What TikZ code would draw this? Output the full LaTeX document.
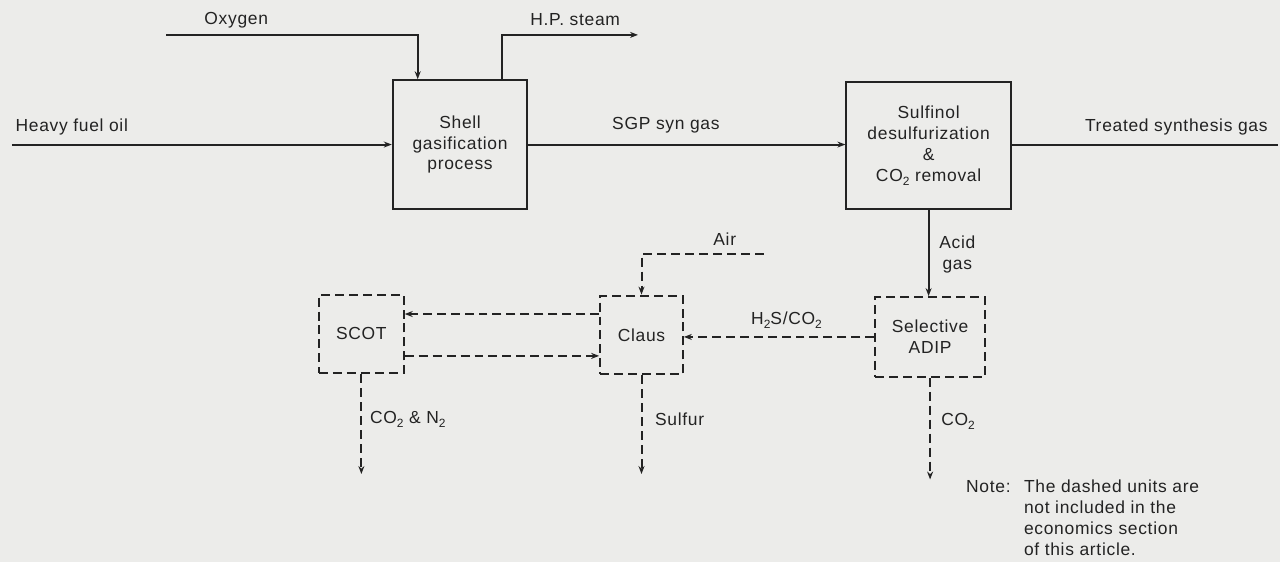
\documentclass[tikz,border=0pt]{standalone}
\usepackage{fontspec}
\setmainfont{Liberation Sans}[LetterSpace=4]
\usetikzlibrary{arrows.meta,calc}
\definecolor{paper}{RGB}{236,236,234}
\definecolor{ink}{RGB}{35,35,35}
\newcommand{\lowsub}[1]{\raisebox{-0.45ex}{\fontsize{12}{12}\selectfont #1}}
\begin{document}
\begin{tikzpicture}[x=1pt,y=-1pt,
  every node/.style={font=\fontsize{17.5}{21}\selectfont, text=ink},
  solidbox/.style={draw=ink, line width=2pt, align=center, inner sep=0pt},
  dashbox/.style={draw=ink, line width=2pt, dash pattern=on 9pt off 5pt, align=center, inner sep=0pt},
  flow/.style={draw=ink, line width=2pt},
  dflow/.style={draw=ink, line width=2pt, dash pattern=on 9pt off 5pt},
  tip/.style={-{Stealth[length=8pt,width=6pt]}},
  lbl/.style={inner sep=0pt}
]
\fill[paper] (-2,-2) rectangle (1282,562);
\useasboundingbox (0,0) rectangle (1280,560);

% process units
\node[solidbox, minimum width=135pt, minimum height=129pt] (shell) at (459.5,143) {Shell\\gasification\\process};
\node[solidbox, minimum width=165pt, minimum height=128pt] (sulf) at (929.5,144) {Sulfinol\\desulfurization\\\&\\CO\lowsub{2} removal};
\node[dashbox, minimum width=110pt, minimum height=80pt] (adip) at (931,336) {Selective\\ADIP};
\node[dashbox, minimum width=83pt, minimum height=79pt] (claus) at (641.5,334) {Claus};
\node[dashbox, minimum width=85pt, minimum height=79pt] (scot) at (360.5,333) {SCOT};

% free ends
\coordinate (hfo) at (10,143);
\coordinate (oxs) at (165,33);
\coordinate (oxc) at (417,33);
\coordinate (hpc) at (502,33);
\coordinate (hpe) at (638,33);
\coordinate (tsg) at (1280,143);
\coordinate (airs) at (764,253);

% solid streams
\draw[flow, tip] (hfo) -- (hfo -| shell.west);
\draw[flow, tip] (oxs) -- (oxc) -- (oxc |- shell.north);
\draw[flow, tip] (hpc |- shell.north) -- (hpc) -- (hpe);
\draw[flow, tip] (shell.east |- hfo) -- (sulf.west |- hfo);
\draw[flow] (sulf.east |- tsg) -- (tsg);
\draw[flow, tip] (sulf.south) -- (sulf.south |- adip.north);

% dashed streams
\draw[dflow, tip] (adip.west) -- (adip.west -| claus.east);
\draw[dflow, tip] (airs) -- (airs -| claus.north) -- (claus.north);
\draw[dflow, tip] ($(claus.west)+(0,-21)$) -- ($(scot.east)+(0,-20)$);
\draw[dflow, tip] ($(scot.east)+(0,22)$) -- ($(claus.west)+(0,21)$);
\draw[dflow, tip] (scot.south) -- ++(0,100);
\draw[dflow, tip] (claus.south) -- ++(0,99);
\draw[dflow, tip] (adip.south) -- ++(0,102);

% labels
\node[lbl] (loxy) at (235,18) {Oxygen};
\node[lbl] (lhp) at (575,18) {H.P. steam};
\node[lbl] (lhfo) at (70,125) {Heavy fuel oil};
\node[lbl] (lsgp) at (666,124) {SGP syn gas};
\node[lbl] (ltsg) at (1178,125) {Treated synthesis gas};
\node[lbl, anchor=west, align=center] (lacid) at (940,253) {Acid\\gas};
\node[lbl] (lair) at (725,238) {Air};
\node[lbl] (lh2s) at (787,319) {H\lowsub{2}S/CO\lowsub{2}};
\node[lbl, anchor=west] (lcn) at (369,419) {CO\lowsub{2} \& N\lowsub{2}};
\node[lbl, anchor=west] (lsul) at (655,419) {Sulfur};
\node[lbl, anchor=west] (lco2) at (942,421) {CO\lowsub{2}};
\node[lbl, anchor=north west] (lnote) at (967,477) {\strut Note:};
\node[lbl, anchor=north west, align=left] (lnotet) at (1025,477) {\strut The dashed units are\\not included in the\\economics section\\of this article.};
\end{tikzpicture}
\end{document}
